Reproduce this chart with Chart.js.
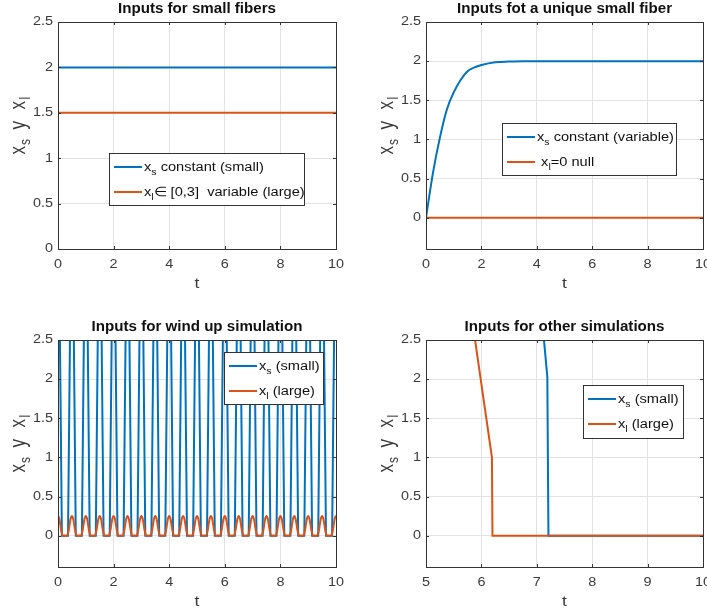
<!DOCTYPE html>
<html><head><meta charset="utf-8">
<script src="https://cdn.jsdelivr.net/npm/chart.js@4.4.0/dist/chart.umd.min.js"></script>
<style>
html,body{margin:0;padding:0;background:#fff;overflow:hidden;width:707px;height:616px;}
canvas{position:absolute;}
</style></head><body>
<canvas id="c1" width="353" height="305" style="left:0;top:0"></canvas>
<canvas id="c2" width="370" height="305" style="left:353px;top:0"></canvas>
<canvas id="c3" width="353" height="311" style="left:0;top:305px"></canvas>
<canvas id="c4" width="370" height="311" style="left:353px;top:305px"></canvas>
<script>
// ---------- DATA ----------
// Panel 1: Inputs for small fibers
const t1 = [0, 10];
const xs1 = [2, 2];
const xl1 = [1.5, 1.5];
// Panel 2: Inputs fot a unique small fiber
const t2 = [0, 0.25, 0.5, 0.75, 1, 1.25, 1.5, 1.75, 2, 2.5, 3, 3.5, 4, 5, 6, 7, 8, 9, 10];
const xs2 = [0, 0.57, 1.02, 1.38, 1.6, 1.76, 1.87, 1.92, 1.95, 1.985, 1.995, 2, 2, 2, 2, 2, 2, 2, 2];
const t2l = [0, 10];
const xl2 = [0, 0];
// Panel 3: Inputs for wind up simulation (pulse trains)
const peakTimes3 = [0, 0.5, 1, 1.5, 2, 2.5, 3, 3.5, 4, 4.5, 5, 5.5, 6, 6.5, 7, 7.5, 8, 8.5, 9, 9.5, 10];
const xsPulseOffsets = [-0.14, 0, 0.14];
const xsPulseValues = [0, 5.0, 0];
const xlPulseOffsets = [-0.17, -0.11, -0.05, 0, 0.05, 0.11, 0.17];
const xlPulseValues = [0, 0.08, 0.21, 0.25, 0.21, 0.08, 0];
// Panel 4: Inputs for other simulations
const t4s = [7.0, 7.19, 7.21, 10];
const xs4 = [3.5, 2.03, 0, 0];
const t4l = [5.5, 6.19, 6.2, 10];
const xl4 = [4.4, 1.0, 0, 0];
// Ticks
const xTicksA = [0, 2, 4, 6, 8, 10];
const xTicksB = [5, 6, 7, 8, 9, 10];
const yTicks = [0, 0.5, 1, 1.5, 2, 2.5];

// ---------- STYLE ----------
const BLUE = '#0072BD', ORANGE = '#D95319';
const FONT = '"Liberation Sans", Arial, Helvetica, sans-serif';
const TC = '#3a3a3a', GRID = '#e3e3e3', FRAME = '#333333';
const SX_TICK = 1.2, SX_LEG = 1.17, SX_TITLE = 1.08, SX_AX = 1.25;

function pts(xs, ys) { return xs.map((x, i) => ({x: x, y: ys[i]})); }
function pulses(peaks, offs, vals) {
  const out = [];
  peaks.forEach(p => offs.forEach((o, i) => out.push({x: p + o, y: vals[i]})));
  return out;
}

function textS(ctx, s, x, y, font, align, base, sx) {
  ctx.save();
  ctx.translate(x, y); ctx.scale(sx, 1);
  ctx.font = font; ctx.textAlign = align; ctx.textBaseline = base;
  ctx.fillText(s, 0, 0);
  ctx.restore();
}

function drawRich(ctx, parts, size, align) {
  const subSize = Math.round(size * 0.7);
  let w = 0;
  parts.forEach(p => { ctx.font = (p.sub ? subSize : size) + 'px ' + FONT; w += ctx.measureText(p.t).width; });
  let cx = align === 'center' ? -w / 2 : 0;
  ctx.textBaseline = 'alphabetic';
  ctx.textAlign = 'left';
  parts.forEach(p => {
    ctx.font = (p.sub ? subSize : size) + 'px ' + FONT;
    ctx.fillText(p.t, cx, (p.sub ? size * 0.3 : 0));
    cx += ctx.measureText(p.t).width;
  });
  return w;
}

// y-axis label "x_s y x_l", glyphs placed along the baseline
const YLABEL = [{t: 'x', at: 0}, {t: 's', sub: 1, at: 9.5}, {t: 'y', at: 25}, {t: 'x', at: 45}, {t: 'l', sub: 1, at: 55}];

function framePlugin(P) {
  return {
    id: 'matlabFrame',
    afterDatasetsDraw(chart) {
      const ctx = chart.ctx, a = chart.chartArea;
      const xs = chart.scales.x, ys = chart.scales.y;
      ctx.save();
      // box
      ctx.strokeStyle = FRAME; ctx.lineWidth = 1;
      ctx.strokeRect(Math.round(a.left) + 0.5, Math.round(a.top) + 0.5, Math.round(a.right - a.left), Math.round(a.bottom - a.top));
      // inward tick marks
      ctx.beginPath();
      xs.ticks.forEach(t => {
        const px = Math.round(xs.getPixelForValue(t.value)) + 0.5;
        ctx.moveTo(px, a.bottom); ctx.lineTo(px, a.bottom - 3);
        ctx.moveTo(px, a.top); ctx.lineTo(px, a.top + 3);
      });
      ys.ticks.forEach(t => {
        const py = Math.round(ys.getPixelForValue(t.value)) + 0.5;
        ctx.moveTo(a.left, py); ctx.lineTo(a.left + 3, py);
        ctx.moveTo(a.right, py); ctx.lineTo(a.right - 3, py);
      });
      ctx.stroke();
      // tick labels (positions from the library's scales)
      ctx.fillStyle = TC;
      xs.ticks.forEach(t => {
        textS(ctx, String(t.value), xs.getPixelForValue(t.value), a.bottom + 16, '12px ' + FONT, 'center', 'middle', SX_TICK);
      });
      ys.ticks.forEach(t => {
        textS(ctx, String(t.value), a.left - 5, ys.getPixelForValue(t.value), '12px ' + FONT, 'right', 'middle', SX_TICK);
      });
      // title
      ctx.fillStyle = '#111';
      textS(ctx, P.title, (a.left + a.right) / 2, a.top - 12.5, 'bold 14px ' + FONT, 'center', 'middle', SX_TITLE);
      // x title
      ctx.fillStyle = TC;
      textS(ctx, 't', (a.left + a.right) / 2, a.bottom + 35, '14px ' + FONT, 'center', 'middle', SX_AX);
      // y title
      ctx.save();
      ctx.translate(a.left - 33, (a.top + a.bottom) / 2 + 19);
      ctx.scale(SX_AX, 1);
      ctx.rotate(-Math.PI / 2);
      ctx.textBaseline = 'alphabetic'; ctx.textAlign = 'left';
      YLABEL.forEach(p => {
        ctx.font = (p.sub ? 12 : 17) + 'px ' + FONT;
        ctx.fillText(p.t, p.at, p.sub ? 4 : 0);
      });
      ctx.restore();
      // legend
      const L = P.legend;
      ctx.fillStyle = '#fff';
      ctx.fillRect(L.x, L.y, L.w, L.h);
      ctx.strokeStyle = FRAME; ctx.lineWidth = 1;
      ctx.strokeRect(Math.round(L.x) + 0.5, Math.round(L.y) + 0.5, L.w, L.h);
      L.items.forEach((it, i) => {
        const yy = L.y + 14 + i * 25;
        ctx.strokeStyle = it.color; ctx.lineWidth = 2;
        ctx.beginPath(); ctx.moveTo(L.x + 5, yy); ctx.lineTo(L.x + 33, yy); ctx.stroke();
        ctx.fillStyle = '#111';
        ctx.save();
        ctx.translate(L.x + 35, yy + 4); ctx.scale(SX_LEG, 1);
        drawRich(ctx, it.parts, 12.5, 'left');
        ctx.restore();
      });
      ctx.restore();
    }
  };
}

function makeChart(id, P) {
  return new Chart(document.getElementById(id), {
    type: 'line',
    data: {
      datasets: P.datasets.map(d => ({
        data: d.data, borderColor: d.color, borderWidth: 2, pointRadius: 0, fill: false,
        cubicInterpolationMode: d.mono ? 'monotone' : 'default', tension: 0, order: d.order
      }))
    },
    options: {
      responsive: false, animation: false, events: [],
      layout: {padding: {top: P.top, right: P.right, left: 0, bottom: 0}},
      plugins: {legend: {display: false}, tooltip: {enabled: false}, title: {display: false}},
      scales: {
        x: {
          type: 'linear', min: P.xMin, max: P.xMax,
          afterBuildTicks: s => { s.ticks = P.xTicks.map(v => ({value: v})); },
          afterFit: s => { s.height = P.xH; },
          grid: {color: GRID, drawTicks: false}, border: {display: false},
          ticks: {display: false}
        },
        y: {
          type: 'linear', min: P.yMin, max: P.yMax,
          afterBuildTicks: s => { s.ticks = yTicks.map(v => ({value: v})); },
          afterFit: s => { s.width = P.yW; },
          grid: {color: GRID, drawTicks: false}, border: {display: false},
          ticks: {display: false}
        }
      }
    },
    plugins: [framePlugin(P)]
  });
}

const legS = [{t: 'x'}, {t: 's', sub: 1}, {t: ' (small)'}];
const legL = [{t: 'x'}, {t: 'l', sub: 1}, {t: ' (large)'}];

makeChart('c1', {
  title: 'Inputs for small fibers', xMin: 0, xMax: 10, yMin: 0, yMax: 2.5, xTicks: xTicksA,
  top: 22, right: 17, xH: 56, yW: 58,
  datasets: [{data: pts(t1, xs1), color: BLUE, order: 2}, {data: pts(t1, xl1), color: ORANGE, order: 1}],
  legend: {x: 109, y: 153, w: 195, h: 52, items: [
    {color: BLUE, parts: [{t: 'x'}, {t: 's', sub: 1}, {t: ' constant (small)'}]},
    {color: ORANGE, parts: [{t: 'x'}, {t: 'l', sub: 1}, {t: '\u2208 [0,3]  variable (large)'}]}]}
});
makeChart('c2', {
  title: 'Inputs fot a unique small fiber', xMin: 0, xMax: 10, yMin: -0.4, yMax: 2.5, xTicks: xTicksA,
  top: 22, right: 20, xH: 56, yW: 73,
  datasets: [{data: pts(t2, xs2), color: BLUE, order: 2, mono: true}, {data: pts(t2l, xl2), color: ORANGE, order: 1}],
  legend: {x: 149, y: 123, w: 174, h: 52, items: [
    {color: BLUE, parts: [{t: 'x'}, {t: 's', sub: 1}, {t: ' constant (variable)'}]},
    {color: ORANGE, parts: [{t: ' x'}, {t: 'l', sub: 1}, {t: '=0 null'}]}]}
});
makeChart('c3', {
  title: 'Inputs for wind up simulation', xMin: 0, xMax: 10, yMin: -0.4, yMax: 2.5, xTicks: xTicksA,
  top: 35, right: 17, xH: 49, yW: 58,
  datasets: [{data: pulses(peakTimes3, xsPulseOffsets, xsPulseValues), color: BLUE, order: 2},
             {data: pulses(peakTimes3, xlPulseOffsets, xlPulseValues), color: ORANGE, order: 1, mono: true}],
  legend: {x: 224, y: 47, w: 99, h: 52, items: [{color: BLUE, parts: legS}, {color: ORANGE, parts: legL}]}
});
makeChart('c4', {
  title: 'Inputs for other simulations', xMin: 5, xMax: 10, yMin: -0.4, yMax: 2.5, xTicks: xTicksB,
  top: 35, right: 20, xH: 49, yW: 73,
  datasets: [{data: pts(t4s, xs4), color: BLUE, order: 2}, {data: pts(t4l, xl4), color: ORANGE, order: 1}],
  legend: {x: 230, y: 80, w: 100, h: 53, items: [{color: BLUE, parts: legS}, {color: ORANGE, parts: legL}]}
});
</script>
</body></html>
